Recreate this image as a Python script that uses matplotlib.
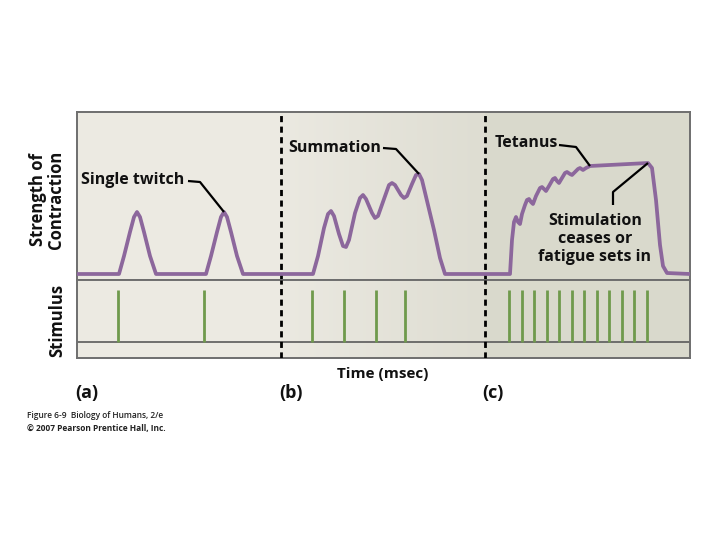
import numpy as np
import matplotlib
matplotlib.use("Agg")
import matplotlib.pyplot as plt
from matplotlib.colors import LinearSegmentedColormap

plt.rcParams['font.family'] = ['Open Sans', 'DejaVu Sans']

# ---------- data ----------
# time (arbitrary units) and strength of contraction
t_curve = [0, 42, 47, 53, 57, 60, 63, 67, 73, 79,
           129, 134, 140, 144, 147, 150, 154, 160, 166,
           236, 241, 247, 251, 254, 257, 262, 266, 269, 272, 278, 283, 286, 289,
           295, 298, 301, 307, 312, 315, 318, 324, 327, 330, 335, 339, 342, 345,
           351, 357, 363, 368,
           433, 435, 437, 439, 441, 443, 445, 448, 450, 452, 454, 456, 459, 463,
           465, 467, 469, 472, 476, 478, 480, 482, 485, 488, 490, 493, 495, 498,
           501, 503, 506, 509, 513, 571, 575, 579, 583, 586, 590, 613]
s_curve = [6, 6, 24, 48, 63, 68, 63, 48, 24, 6,
           6, 24, 48, 63, 68, 63, 48, 24, 6,
           6, 24, 52, 66, 69, 64, 46, 34, 33, 40, 67, 82, 85, 81,
           67, 62, 64, 81, 95, 97, 95, 85, 82, 84, 96, 105, 106, 100,
           75, 50, 22, 6,
           6, 40, 58, 63, 58, 56, 66, 75, 80, 81, 78, 76, 84, 92,
           93, 91, 89, 94, 101, 102, 99, 97, 102, 107, 108, 106, 105, 108,
           111, 112, 110, 112, 114, 117, 112, 80, 35, 14, 7, 6]

# stimulus times
stim_a = [41, 127]
stim_b = [235, 267, 299, 328]
stim_c = [432, 445, 457, 470, 482, 495, 507, 520, 532, 545, 557, 570]

t_max = 613
s_max = 168
split_b = 204
split_c = 408

# index of annotated points in the curve
i_twitch = 14
i_summ = 45
i_tet = 83
i_stop = 84

# ---------- figure ----------
W, H = 720, 540
fig = plt.figure(figsize=(7.2, 5.4), dpi=100)
fig.patch.set_facecolor('white')

ax = fig.add_axes([77 / W, 1 - 280 / H, 613 / W, 168 / H])
ax2 = fig.add_axes([77 / W, 1 - 358 / H, 613 / W, 78 / H])

col_a = '#ECEAE2'
col_c = '#D9D9CC'
grad = LinearSegmentedColormap.from_list('g', ['#EBE9E1', '#DEDDD2'])

for a, top in [(ax, s_max), (ax2, 78)]:
    a.axvspan(0, split_b, color=col_a, zorder=0, lw=0)
    a.axvspan(split_c, t_max, color=col_c, zorder=0, lw=0)
    a.imshow(np.linspace(0, 1, 100).reshape(1, -1), cmap=grad, aspect='auto',
             extent=[split_b, split_c, 0, top], zorder=0)
    a.axvline(split_b, color='black', lw=2, ls=(0, (2.2, 1.6)), zorder=3)
    a.axvline(split_c, color='black', lw=2, ls=(0, (2.2, 1.6)), zorder=3)
    a.set_xlim(0, t_max)
    a.set_ylim(0, top)
    a.set_xticks([])
    a.set_yticks([])
    for sp in a.spines.values():
        sp.set_color('#6E6E6E')
        sp.set_linewidth(1.4)

# contraction curve
ax.plot(t_curve, s_curve, color='#8C679C', lw=2.7, solid_joinstyle='round',
        solid_capstyle='round', zorder=4)

# stimulus panel
ax2.axhline(16, color='#5A5A5A', lw=1.2, zorder=2)
ax2.vlines(stim_a + stim_b + stim_c, 16, 68, color='#6F9A4C', lw=2.0, zorder=2)

# ---------- annotations ----------
tf = dict(fontsize=11.5, fontweight='bold', color='#111111')
lk = dict(color='black', lw=1.6, solid_capstyle='butt', zorder=5)

ax.text(4, 100, 'Single twitch', ha='left', va='center', **tf)
ax.plot([111, 123, t_curve[i_twitch]], [99, 98, s_curve[i_twitch]], **lk)

ax.text(211, 132, 'Summation', ha='left', va='center', **tf)
ax.plot([306, 319, t_curve[i_summ]], [132, 131, s_curve[i_summ]], **lk)

ax.text(418, 137, 'Tetanus', ha='left', va='center', **tf)
ax.plot([482, 499, t_curve[i_tet]], [135, 133, s_curve[i_tet]], **lk)

ax.text(518, 41, 'Stimulation\nceases or\nfatigue sets in', ha='center',
        va='center', linespacing=1.2, **tf)
ax.plot([536, 536, t_curve[i_stop]], [75, 88, s_curve[i_stop]], **lk)

# ---------- outside labels ----------
lf = dict(fontsize=12, fontweight='bold', color='#111111')
fig.text(47 / W, 1 - 200 / H, 'Strength of\nContraction', rotation=90,
         ha='center', va='center', linespacing=1.0, **lf)
fig.text(57 / W, 1 - 320 / H, 'Stimulus', rotation=90, ha='center',
         va='center', **lf)
fig.text(383 / W, 1 - 374 / H, 'Time (msec)', ha='center', va='center',
         fontsize=11, fontweight='bold', color='#111111')

pf = dict(fontsize=13, fontweight='bold', color='#111111')
fig.text(87 / W, 1 - 393 / H, '(a)', ha='center', va='center', **pf)
fig.text(291 / W, 1 - 393 / H, '(b)', ha='center', va='center', **pf)
fig.text(493 / W, 1 - 393 / H, '(c)', ha='center', va='center', **pf)

fig.text(27 / W, 1 - 416 / H, 'Figure 6-9  Biology of Humans, 2/e',
         ha='left', va='center', fontsize=6, fontweight='semibold', color='#222222')
fig.text(27 / W, 1 - 428 / H, '\u00a9 2007 Pearson Prentice Hall, Inc.',
         ha='left', va='center', fontsize=6, fontweight='bold', color='#222222')

fig.savefig('out.png', dpi=100)
